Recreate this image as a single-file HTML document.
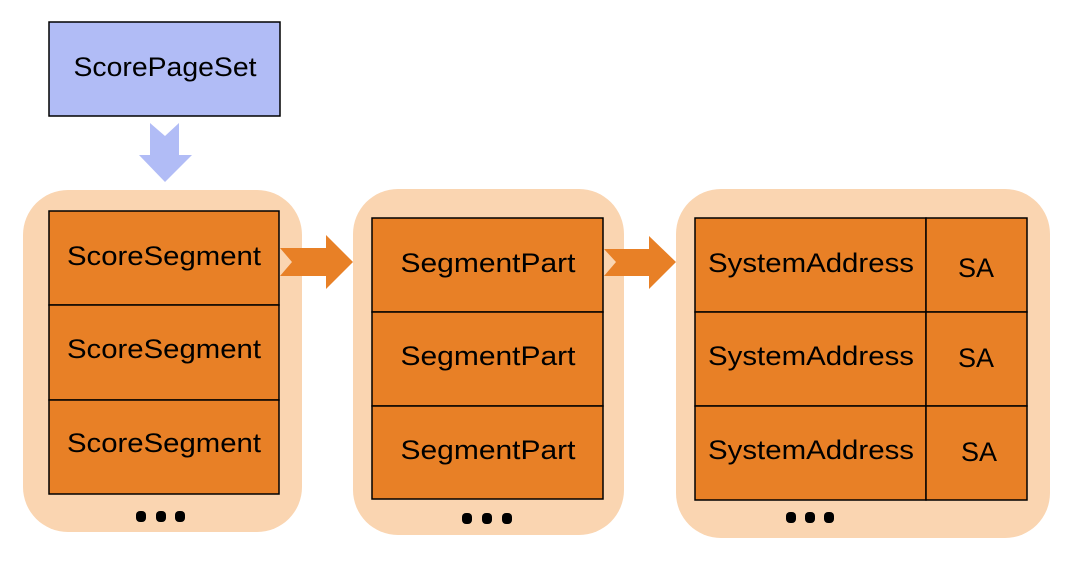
<!DOCTYPE html>
<html><head><style>
body{margin:0;background:#fff;width:1091px;height:568px;overflow:hidden;font-family:"Liberation Sans",sans-serif}
</style></head><body>
<svg width="1091" height="568" xmlns="http://www.w3.org/2000/svg" font-family="Liberation Sans, sans-serif" font-size="27">
<rect x="49" y="22" width="231" height="94" fill="#b1bcf6" stroke="#000" stroke-width="1.5"/>
<text x="165" y="76" text-anchor="middle" textLength="183" lengthAdjust="spacingAndGlyphs">ScorePageSet</text>
<polygon points="150,123 165,136 179,123 179,155 192,155 165,182 139,155 150,155" fill="#b1bcf6"/>
<rect x="23" y="190" width="279" height="342" rx="45" fill="#fad5b1"/>
<rect x="353" y="189" width="271" height="346" rx="45" fill="#fad5b1"/>
<rect x="676" y="189" width="374" height="349" rx="45" fill="#fad5b1"/>
<g fill="#e88026" stroke="#000" stroke-width="1.5">
<rect x="49" y="211" width="230" height="94"/><rect x="49" y="305" width="230" height="95"/><rect x="49" y="400" width="230" height="94"/>
<rect x="372" y="218" width="231" height="94"/><rect x="372" y="312" width="231" height="94"/><rect x="372" y="406" width="231" height="93"/>
<rect x="695" y="218" width="231" height="94"/><rect x="695" y="312" width="231" height="94"/><rect x="695" y="406" width="231" height="94"/>
<rect x="926" y="218" width="101" height="94"/><rect x="926" y="312" width="101" height="94"/><rect x="926" y="406" width="101" height="94"/>
</g>
<polygon points="280,248 326,248 326,235 353,262 326,289 326,276 280,276 292,262" fill="#e88026"/>
<polygon points="604,249 649,249 649,236 676,262 649,289 649,276 604,276 616,262" fill="#e88026"/>
<g text-anchor="middle" lengthAdjust="spacingAndGlyphs">
<text x="164" y="265" textLength="194" lengthAdjust="spacingAndGlyphs">ScoreSegment</text><text x="164" y="358" textLength="194" lengthAdjust="spacingAndGlyphs">ScoreSegment</text><text x="164" y="452" textLength="194" lengthAdjust="spacingAndGlyphs">ScoreSegment</text>
<text x="488" y="272" textLength="175" lengthAdjust="spacingAndGlyphs">SegmentPart</text><text x="488" y="365" textLength="175" lengthAdjust="spacingAndGlyphs">SegmentPart</text><text x="488" y="459" textLength="175" lengthAdjust="spacingAndGlyphs">SegmentPart</text>
<text x="811" y="272" textLength="206" lengthAdjust="spacingAndGlyphs">SystemAddress</text><text x="811" y="365" textLength="206" lengthAdjust="spacingAndGlyphs">SystemAddress</text><text x="811" y="459" textLength="206" lengthAdjust="spacingAndGlyphs">SystemAddress</text>
<text x="976" y="277">SA</text><text x="976" y="367">SA</text><text x="979" y="461">SA</text>
</g>
<g fill="#000">
<rect x="136" y="511" width="10" height="11" rx="4"/><rect x="156" y="511" width="10" height="11" rx="4"/><rect x="175" y="511" width="10" height="11" rx="4"/>
<rect x="462" y="513" width="10" height="11" rx="4"/><rect x="482" y="513" width="10" height="11" rx="4"/><rect x="502" y="513" width="10" height="11" rx="4"/>
<rect x="786" y="512" width="10" height="11" rx="4"/><rect x="805" y="512" width="10" height="11" rx="4"/><rect x="824" y="512" width="10" height="11" rx="4"/>
</g>
</svg>
</body></html>
